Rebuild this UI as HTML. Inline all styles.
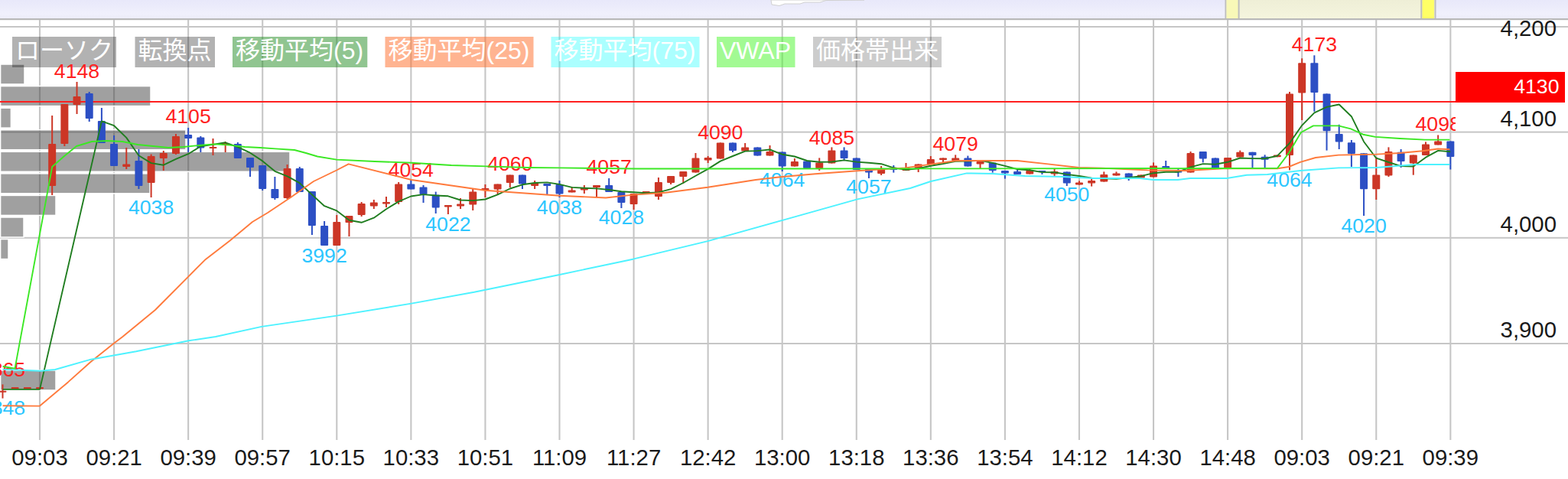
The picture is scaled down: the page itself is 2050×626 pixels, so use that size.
<!DOCTYPE html>
<html><head><meta charset="utf-8"><title>chart</title><style>html,body{margin:0;padding:0;background:#fff;overflow:hidden}body{width:2050px;height:626px}</style></head><body>
<svg width="2050" height="626" viewBox="0 0 2050 626" style="display:block;font-family:'Liberation Sans','Noto Sans CJK JP',sans-serif">
<defs>
<linearGradient id="band" x1="0" y1="0" x2="0" y2="1"><stop offset="0" stop-color="#e8e8fa"/><stop offset="0.75" stop-color="#f0f0fc"/><stop offset="1" stop-color="#ececf8"/></linearGradient>
<linearGradient id="sel" x1="0" y1="0" x2="0" y2="1"><stop offset="0" stop-color="#eeeed6"/><stop offset="1" stop-color="#f5f5de"/></linearGradient>
<clipPath id="plot"><rect x="0" y="26" width="1903" height="560"/></clipPath>
</defs>
<rect x="0" y="0" width="2050" height="626" fill="#fff"/>
<rect x="0" y="0" width="2050" height="24.5" fill="url(#band)"/>
<path d="M1008 0 L1009 6 L1019 7.5 L1026 5 L1046 5 L1052 3 L1072 3 L1080 0.5 L1130 0 Z" fill="#fff" stroke="#d0d0d0" stroke-width="1"/>
<rect x="1602.5" y="-2" width="274" height="27" fill="url(#sel)" stroke="#bdbdbd" stroke-width="2"/>
<rect x="1603.5" y="0" width="15.5" height="24.5" fill="#f8f8b8"/>
<rect x="1618.6" y="0" width="2" height="24.5" fill="#bdbdbd"/>
<rect x="1859.3" y="0" width="15.6" height="24.5" fill="#ffff66"/>
<rect x="1857.3" y="0" width="2" height="24.5" fill="#bdbdbd"/>
<rect x="0" y="24" width="2050" height="2.2" fill="#b9b9b9"/>
<rect x="50.95" y="26" width="2.1" height="549" fill="#c6c6c6"/>
<rect x="148.02" y="26" width="2.1" height="549" fill="#c6c6c6"/>
<rect x="245.09" y="26" width="2.1" height="549" fill="#c6c6c6"/>
<rect x="342.16" y="26" width="2.1" height="549" fill="#c6c6c6"/>
<rect x="439.23" y="26" width="2.1" height="549" fill="#c6c6c6"/>
<rect x="536.30" y="26" width="2.1" height="549" fill="#c6c6c6"/>
<rect x="633.37" y="26" width="2.1" height="549" fill="#c6c6c6"/>
<rect x="730.44" y="26" width="2.1" height="549" fill="#c6c6c6"/>
<rect x="827.51" y="26" width="2.1" height="549" fill="#c6c6c6"/>
<rect x="924.58" y="26" width="2.1" height="549" fill="#c6c6c6"/>
<rect x="1021.65" y="26" width="2.1" height="549" fill="#c6c6c6"/>
<rect x="1118.72" y="26" width="2.1" height="549" fill="#c6c6c6"/>
<rect x="1215.79" y="26" width="2.1" height="549" fill="#c6c6c6"/>
<rect x="1312.86" y="26" width="2.1" height="549" fill="#c6c6c6"/>
<rect x="1409.93" y="26" width="2.1" height="549" fill="#c6c6c6"/>
<rect x="1507.00" y="26" width="2.1" height="549" fill="#c6c6c6"/>
<rect x="1604.07" y="26" width="2.1" height="549" fill="#c6c6c6"/>
<rect x="1701.14" y="26" width="2.1" height="549" fill="#c6c6c6"/>
<rect x="1798.21" y="26" width="2.1" height="549" fill="#c6c6c6"/>
<rect x="1895.28" y="26" width="2.1" height="549" fill="#c6c6c6"/>
<rect x="0" y="34.00" width="2050" height="2" fill="#c6c6c6"/>
<rect x="0" y="171.60" width="2050" height="2" fill="#c6c6c6"/>
<rect x="0" y="309.80" width="2050" height="2" fill="#c6c6c6"/>
<rect x="0" y="448.00" width="2050" height="2" fill="#c6c6c6"/>
<g clip-path="url(#plot)">
<rect x="0.6" y="84.00" width="31.4" height="26" fill="rgba(60,60,60,0.485)" stroke="#fff" stroke-width="1.5"/>
<rect x="0.6" y="112.57" width="196.4" height="26" fill="rgba(60,60,60,0.485)" stroke="#fff" stroke-width="1.5"/>
<rect x="0.6" y="141.14" width="13.8" height="26" fill="rgba(60,60,60,0.485)" stroke="#fff" stroke-width="1.5"/>
<rect x="0.6" y="169.71" width="242.4" height="26" fill="rgba(60,60,60,0.485)" stroke="#fff" stroke-width="1.5"/>
<rect x="0.6" y="198.28" width="378.4" height="26" fill="rgba(60,60,60,0.485)" stroke="#fff" stroke-width="1.5"/>
<rect x="0.6" y="226.85" width="195.4" height="26" fill="rgba(60,60,60,0.485)" stroke="#fff" stroke-width="1.5"/>
<rect x="0.6" y="255.42" width="72.4" height="26" fill="rgba(60,60,60,0.485)" stroke="#fff" stroke-width="1.5"/>
<rect x="0.6" y="283.99" width="30.4" height="26" fill="rgba(60,60,60,0.485)" stroke="#fff" stroke-width="1.5"/>
<rect x="0.6" y="312.56" width="10.4" height="26" fill="rgba(60,60,60,0.485)" stroke="#fff" stroke-width="1.5"/>
<rect x="0.6" y="483.98" width="72.4" height="26" fill="rgba(60,60,60,0.485)" stroke="#fff" stroke-width="1.5"/>
</g>
<rect x="16" y="48" width="136" height="40" fill="rgba(0,0,0,0.3)"/><g fill="#fff"><text x="20" y="77.4" font-size="32" fill="#fff">ローソク</text></g>
<rect x="176.5" y="48" width="104.5" height="40" fill="rgba(0,0,0,0.3)"/><g fill="#fff"><text x="180.5" y="77.4" font-size="32" fill="#fff">転換点</text></g>
<rect x="304" y="48" width="176.3" height="40" fill="rgba(34,139,34,0.5)"/><g fill="#fff"><text x="308" y="77.4" font-size="32" fill="#fff">移動平均</text><text x="436.00" y="77.4" font-size="32" fill="#fff">(5)</text></g>
<rect x="503.5" y="48" width="194" height="40" fill="rgba(255,105,35,0.5)"/><g fill="#fff"><text x="507.5" y="77.4" font-size="32" fill="#fff">移動平均</text><text x="635.50" y="77.4" font-size="32" fill="#fff">(25)</text></g>
<rect x="720.5" y="48" width="194" height="40" fill="rgba(0,255,255,0.33)"/><g fill="#fff"><text x="724.5" y="77.4" font-size="32" fill="#fff">移動平均</text><text x="852.50" y="77.4" font-size="32" fill="#fff">(75)</text></g>
<rect x="937" y="48" width="102.5" height="40" fill="rgba(70,245,40,0.5)"/><g fill="#fff"><text x="941.00" y="77.4" font-size="32" fill="#fff">VWAP</text></g>
<rect x="1063" y="48" width="168" height="40" fill="rgba(0,0,0,0.2)"/><g fill="#fff"><text x="1067" y="77.4" font-size="32" fill="#fff">価格帯出来</text></g>
<g clip-path="url(#plot)">
<rect x="0" y="132" width="1905" height="2" fill="#ff2020"/>
<rect x="2.47" y="502.4" width="2" height="18.2" fill="#cc3626"/>
<rect x="-1.53" y="510.7" width="10" height="2.0" rx="1" fill="#cc3626"/>
<rect x="18.64" y="506.0" width="2" height="2.3" fill="#cc3626"/>
<rect x="14.64" y="506.0" width="10" height="2.3" rx="1" fill="#cc3626"/>
<rect x="34.82" y="506.0" width="2" height="2.3" fill="#cc3626"/>
<rect x="30.82" y="506.0" width="10" height="2.3" rx="1" fill="#cc3626"/>
<rect x="51.00" y="506.0" width="2" height="2.3" fill="#cc3626"/>
<rect x="47.00" y="506.0" width="10" height="2.3" rx="1" fill="#cc3626"/>
<rect x="67.18" y="151.0" width="2" height="104.0" fill="#cc3626"/>
<rect x="63.18" y="188.0" width="10" height="55.0" rx="1" fill="#cc3626"/>
<rect x="83.36" y="136.0" width="2" height="55.0" fill="#cc3626"/>
<rect x="79.36" y="136.0" width="10" height="52.0" rx="1" fill="#cc3626"/>
<rect x="99.53" y="107.0" width="2" height="42.0" fill="#cc3626"/>
<rect x="95.53" y="126.0" width="10" height="11.0" rx="1" fill="#cc3626"/>
<rect x="115.71" y="120.0" width="2" height="39.0" fill="#2c4fc4"/>
<rect x="111.71" y="122.0" width="10" height="33.0" rx="1" fill="#2c4fc4"/>
<rect x="131.89" y="141.0" width="2" height="46.0" fill="#2c4fc4"/>
<rect x="127.89" y="158.0" width="10" height="29.0" rx="1" fill="#2c4fc4"/>
<rect x="148.07" y="177.0" width="2" height="40.0" fill="#2c4fc4"/>
<rect x="144.07" y="188.0" width="10" height="29.0" rx="1" fill="#2c4fc4"/>
<rect x="164.25" y="193.0" width="2" height="28.0" fill="#cc3626"/>
<rect x="160.25" y="214.4" width="10" height="3.6" rx="1" fill="#cc3626"/>
<rect x="180.43" y="195.0" width="2" height="52.0" fill="#2c4fc4"/>
<rect x="176.43" y="210.0" width="10" height="33.0" rx="1" fill="#2c4fc4"/>
<rect x="196.60" y="201.6" width="2" height="56.4" fill="#cc3626"/>
<rect x="192.60" y="204.0" width="10" height="35.0" rx="1" fill="#cc3626"/>
<rect x="212.78" y="197.0" width="2" height="26.0" fill="#cc3626"/>
<rect x="208.78" y="200.0" width="10" height="7.0" rx="1" fill="#cc3626"/>
<rect x="228.96" y="175.0" width="2" height="27.0" fill="#cc3626"/>
<rect x="224.96" y="178.0" width="10" height="23.0" rx="1" fill="#cc3626"/>
<rect x="245.14" y="167.0" width="2" height="32.0" fill="#2c4fc4"/>
<rect x="241.14" y="176.0" width="10" height="5.0" rx="1" fill="#2c4fc4"/>
<rect x="261.32" y="178.0" width="2" height="21.0" fill="#2c4fc4"/>
<rect x="257.32" y="179.6" width="10" height="14.0" rx="1" fill="#2c4fc4"/>
<rect x="277.50" y="181.0" width="2" height="22.0" fill="#cc3626"/>
<rect x="273.50" y="192.0" width="10" height="2.0" rx="1" fill="#cc3626"/>
<rect x="293.67" y="185.0" width="2" height="14.0" fill="#cc3626"/>
<rect x="289.67" y="187.0" width="10" height="3.0" rx="1" fill="#cc3626"/>
<rect x="309.85" y="186.0" width="2" height="21.0" fill="#2c4fc4"/>
<rect x="305.85" y="188.0" width="10" height="19.0" rx="1" fill="#2c4fc4"/>
<rect x="326.03" y="206.0" width="2" height="25.0" fill="#2c4fc4"/>
<rect x="322.03" y="206.0" width="10" height="13.0" rx="1" fill="#2c4fc4"/>
<rect x="342.21" y="216.0" width="2" height="33.0" fill="#2c4fc4"/>
<rect x="338.21" y="216.0" width="10" height="31.0" rx="1" fill="#2c4fc4"/>
<rect x="358.39" y="231.0" width="2" height="30.0" fill="#2c4fc4"/>
<rect x="354.39" y="247.0" width="10" height="12.0" rx="1" fill="#2c4fc4"/>
<rect x="374.57" y="215.0" width="2" height="45.0" fill="#cc3626"/>
<rect x="370.57" y="220.0" width="10" height="39.0" rx="1" fill="#cc3626"/>
<rect x="390.74" y="218.0" width="2" height="33.0" fill="#2c4fc4"/>
<rect x="386.74" y="220.0" width="10" height="31.0" rx="1" fill="#2c4fc4"/>
<rect x="406.92" y="250.0" width="2" height="57.0" fill="#2c4fc4"/>
<rect x="402.92" y="250.0" width="10" height="45.0" rx="1" fill="#2c4fc4"/>
<rect x="423.10" y="289.0" width="2" height="32.0" fill="#2c4fc4"/>
<rect x="419.10" y="295.0" width="10" height="26.0" rx="1" fill="#2c4fc4"/>
<rect x="439.28" y="281.0" width="2" height="40.0" fill="#cc3626"/>
<rect x="435.28" y="290.0" width="10" height="31.0" rx="1" fill="#cc3626"/>
<rect x="455.46" y="282.0" width="2" height="27.0" fill="#cc3626"/>
<rect x="451.46" y="282.0" width="10" height="9.0" rx="1" fill="#cc3626"/>
<rect x="471.64" y="264.0" width="2" height="19.0" fill="#cc3626"/>
<rect x="467.64" y="266.0" width="10" height="15.0" rx="1" fill="#cc3626"/>
<rect x="487.81" y="261.0" width="2" height="12.0" fill="#cc3626"/>
<rect x="483.81" y="264.6" width="10" height="4.8" rx="1" fill="#cc3626"/>
<rect x="503.99" y="257.0" width="2" height="14.0" fill="#cc3626"/>
<rect x="499.99" y="264.0" width="10" height="2.6" rx="1" fill="#cc3626"/>
<rect x="520.17" y="238.0" width="2" height="29.0" fill="#cc3626"/>
<rect x="516.17" y="240.6" width="10" height="23.4" rx="1" fill="#cc3626"/>
<rect x="536.35" y="235.0" width="2" height="12.4" fill="#2c4fc4"/>
<rect x="532.35" y="240.6" width="10" height="6.8" rx="1" fill="#2c4fc4"/>
<rect x="552.53" y="242.0" width="2" height="23.0" fill="#2c4fc4"/>
<rect x="548.53" y="244.6" width="10" height="9.4" rx="1" fill="#2c4fc4"/>
<rect x="568.71" y="250.6" width="2" height="28.4" fill="#2c4fc4"/>
<rect x="564.71" y="254.6" width="10" height="16.8" rx="1" fill="#2c4fc4"/>
<rect x="584.88" y="268.0" width="2" height="12.0" fill="#cc3626"/>
<rect x="580.88" y="268.0" width="10" height="2.6" rx="1" fill="#cc3626"/>
<rect x="601.06" y="259.0" width="2" height="14.0" fill="#cc3626"/>
<rect x="597.06" y="266.6" width="10" height="2.8" rx="1" fill="#cc3626"/>
<rect x="617.24" y="247.0" width="2" height="28.0" fill="#cc3626"/>
<rect x="613.24" y="250.6" width="10" height="16.8" rx="1" fill="#cc3626"/>
<rect x="633.42" y="241.0" width="2" height="17.0" fill="#cc3626"/>
<rect x="629.42" y="246.0" width="10" height="2.6" rx="1" fill="#cc3626"/>
<rect x="649.60" y="240.6" width="2" height="13.4" fill="#cc3626"/>
<rect x="645.60" y="240.6" width="10" height="6.8" rx="1" fill="#cc3626"/>
<rect x="665.78" y="228.6" width="2" height="16.4" fill="#cc3626"/>
<rect x="661.78" y="228.6" width="10" height="10.4" rx="1" fill="#cc3626"/>
<rect x="681.95" y="228.6" width="2" height="18.4" fill="#2c4fc4"/>
<rect x="677.95" y="228.6" width="10" height="12.0" rx="1" fill="#2c4fc4"/>
<rect x="698.13" y="236.0" width="2" height="11.0" fill="#cc3626"/>
<rect x="694.13" y="239.0" width="10" height="4.0" rx="1" fill="#cc3626"/>
<rect x="714.31" y="240.0" width="2" height="15.0" fill="#2c4fc4"/>
<rect x="710.31" y="240.0" width="10" height="3.0" rx="1" fill="#2c4fc4"/>
<rect x="730.49" y="236.0" width="2" height="22.0" fill="#2c4fc4"/>
<rect x="726.49" y="241.0" width="10" height="12.4" rx="1" fill="#2c4fc4"/>
<rect x="746.67" y="244.0" width="2" height="7.4" fill="#cc3626"/>
<rect x="742.67" y="248.6" width="10" height="2.8" rx="1" fill="#cc3626"/>
<rect x="762.85" y="242.0" width="2" height="11.0" fill="#cc3626"/>
<rect x="758.85" y="245.0" width="10" height="3.6" rx="1" fill="#cc3626"/>
<rect x="779.02" y="242.0" width="2" height="15.0" fill="#cc3626"/>
<rect x="775.02" y="242.0" width="10" height="3.0" rx="1" fill="#cc3626"/>
<rect x="795.20" y="233.0" width="2" height="18.0" fill="#2c4fc4"/>
<rect x="791.20" y="242.0" width="10" height="9.0" rx="1" fill="#2c4fc4"/>
<rect x="811.38" y="251.0" width="2" height="21.0" fill="#2c4fc4"/>
<rect x="807.38" y="251.0" width="10" height="14.0" rx="1" fill="#2c4fc4"/>
<rect x="827.56" y="253.0" width="2" height="21.0" fill="#cc3626"/>
<rect x="823.56" y="253.0" width="10" height="14.0" rx="1" fill="#cc3626"/>
<rect x="843.74" y="250.0" width="2" height="3.0" fill="#cc3626"/>
<rect x="839.74" y="250.0" width="10" height="3.0" rx="1" fill="#cc3626"/>
<rect x="859.92" y="232.0" width="2" height="29.0" fill="#cc3626"/>
<rect x="855.92" y="238.0" width="10" height="19.0" rx="1" fill="#cc3626"/>
<rect x="876.09" y="230.0" width="2" height="11.0" fill="#cc3626"/>
<rect x="872.09" y="230.0" width="10" height="9.0" rx="1" fill="#cc3626"/>
<rect x="892.27" y="224.0" width="2" height="16.0" fill="#cc3626"/>
<rect x="888.27" y="224.0" width="10" height="7.0" rx="1" fill="#cc3626"/>
<rect x="908.45" y="200.0" width="2" height="25.6" fill="#cc3626"/>
<rect x="904.45" y="206.4" width="10" height="19.2" rx="1" fill="#cc3626"/>
<rect x="924.63" y="204.0" width="2" height="9.0" fill="#cc3626"/>
<rect x="920.63" y="206.0" width="10" height="3.6" rx="1" fill="#cc3626"/>
<rect x="940.81" y="186.4" width="2" height="21.2" fill="#cc3626"/>
<rect x="936.81" y="186.4" width="10" height="21.2" rx="1" fill="#cc3626"/>
<rect x="956.99" y="186.4" width="2" height="12.6" fill="#2c4fc4"/>
<rect x="952.99" y="186.4" width="10" height="10.6" rx="1" fill="#2c4fc4"/>
<rect x="973.16" y="187.0" width="2" height="10.6" fill="#cc3626"/>
<rect x="969.16" y="192.4" width="10" height="5.2" rx="1" fill="#cc3626"/>
<rect x="989.34" y="192.4" width="2" height="11.2" fill="#2c4fc4"/>
<rect x="985.34" y="192.4" width="10" height="11.2" rx="1" fill="#2c4fc4"/>
<rect x="1005.52" y="190.0" width="2" height="13.6" fill="#cc3626"/>
<rect x="1001.52" y="198.0" width="10" height="5.6" rx="1" fill="#cc3626"/>
<rect x="1021.70" y="198.4" width="2" height="25.6" fill="#2c4fc4"/>
<rect x="1017.70" y="198.4" width="10" height="19.2" rx="1" fill="#2c4fc4"/>
<rect x="1037.88" y="207.0" width="2" height="10.6" fill="#cc3626"/>
<rect x="1033.88" y="211.0" width="10" height="6.6" rx="1" fill="#cc3626"/>
<rect x="1054.06" y="210.4" width="2" height="9.6" fill="#2c4fc4"/>
<rect x="1050.06" y="210.4" width="10" height="9.6" rx="1" fill="#2c4fc4"/>
<rect x="1070.23" y="206.4" width="2" height="16.6" fill="#cc3626"/>
<rect x="1066.23" y="212.4" width="10" height="7.6" rx="1" fill="#cc3626"/>
<rect x="1086.41" y="192.4" width="2" height="21.2" fill="#cc3626"/>
<rect x="1082.41" y="196.4" width="10" height="17.2" rx="1" fill="#cc3626"/>
<rect x="1102.59" y="192.4" width="2" height="17.6" fill="#2c4fc4"/>
<rect x="1098.59" y="196.4" width="10" height="10.6" rx="1" fill="#2c4fc4"/>
<rect x="1118.77" y="206.4" width="2" height="15.6" fill="#2c4fc4"/>
<rect x="1114.77" y="206.4" width="10" height="15.6" rx="1" fill="#2c4fc4"/>
<rect x="1134.95" y="220.0" width="2" height="13.0" fill="#2c4fc4"/>
<rect x="1130.95" y="220.0" width="10" height="5.6" rx="1" fill="#2c4fc4"/>
<rect x="1151.13" y="217.0" width="2" height="12.0" fill="#cc3626"/>
<rect x="1147.13" y="220.0" width="10" height="7.0" rx="1" fill="#cc3626"/>
<rect x="1167.30" y="216.0" width="2" height="9.6" fill="#2c4fc4"/>
<rect x="1163.30" y="220.0" width="10" height="2.0" rx="1" fill="#2c4fc4"/>
<rect x="1183.48" y="213.0" width="2" height="10.0" fill="#cc3626"/>
<rect x="1179.48" y="219.0" width="10" height="4.0" rx="1" fill="#cc3626"/>
<rect x="1199.66" y="214.4" width="2" height="10.6" fill="#cc3626"/>
<rect x="1195.66" y="214.4" width="10" height="5.6" rx="1" fill="#cc3626"/>
<rect x="1215.84" y="204.0" width="2" height="11.0" fill="#cc3626"/>
<rect x="1211.84" y="208.0" width="10" height="7.0" rx="1" fill="#cc3626"/>
<rect x="1232.02" y="206.4" width="2" height="6.6" fill="#cc3626"/>
<rect x="1228.02" y="206.4" width="10" height="2.6" rx="1" fill="#cc3626"/>
<rect x="1248.20" y="202.4" width="2" height="7.6" fill="#cc3626"/>
<rect x="1244.20" y="206.4" width="10" height="3.6" rx="1" fill="#cc3626"/>
<rect x="1264.37" y="203.6" width="2" height="14.0" fill="#2c4fc4"/>
<rect x="1260.37" y="206.4" width="10" height="11.2" rx="1" fill="#2c4fc4"/>
<rect x="1280.55" y="211.0" width="2" height="10.0" fill="#cc3626"/>
<rect x="1276.55" y="211.0" width="10" height="3.4" rx="1" fill="#cc3626"/>
<rect x="1296.73" y="212.4" width="2" height="13.2" fill="#2c4fc4"/>
<rect x="1292.73" y="212.4" width="10" height="10.6" rx="1" fill="#2c4fc4"/>
<rect x="1312.91" y="223.0" width="2" height="10.6" fill="#2c4fc4"/>
<rect x="1308.91" y="223.0" width="10" height="3.4" rx="1" fill="#2c4fc4"/>
<rect x="1329.09" y="220.0" width="2" height="8.0" fill="#2c4fc4"/>
<rect x="1325.09" y="224.0" width="10" height="4.0" rx="1" fill="#2c4fc4"/>
<rect x="1345.27" y="221.0" width="2" height="6.6" fill="#cc3626"/>
<rect x="1341.27" y="223.0" width="10" height="4.6" rx="1" fill="#cc3626"/>
<rect x="1361.44" y="223.0" width="2" height="5.0" fill="#2c4fc4"/>
<rect x="1357.44" y="223.0" width="10" height="2.0" rx="1" fill="#2c4fc4"/>
<rect x="1377.62" y="220.0" width="2" height="10.4" fill="#cc3626"/>
<rect x="1373.62" y="224.0" width="10" height="3.6" rx="1" fill="#cc3626"/>
<rect x="1393.80" y="224.4" width="2" height="18.6" fill="#2c4fc4"/>
<rect x="1389.80" y="224.4" width="10" height="15.2" rx="1" fill="#2c4fc4"/>
<rect x="1409.98" y="236.4" width="2" height="5.2" fill="#cc3626"/>
<rect x="1405.98" y="238.4" width="10" height="3.2" rx="1" fill="#cc3626"/>
<rect x="1426.16" y="233.0" width="2" height="10.6" fill="#cc3626"/>
<rect x="1422.16" y="236.0" width="10" height="3.6" rx="1" fill="#cc3626"/>
<rect x="1442.34" y="224.4" width="2" height="13.2" fill="#cc3626"/>
<rect x="1438.34" y="228.0" width="10" height="9.6" rx="1" fill="#cc3626"/>
<rect x="1458.51" y="224.4" width="2" height="5.2" fill="#cc3626"/>
<rect x="1454.51" y="226.4" width="10" height="3.2" rx="1" fill="#cc3626"/>
<rect x="1474.69" y="226.4" width="2" height="9.6" fill="#2c4fc4"/>
<rect x="1470.69" y="226.4" width="10" height="5.6" rx="1" fill="#2c4fc4"/>
<rect x="1490.87" y="228.4" width="2" height="4.0" fill="#cc3626"/>
<rect x="1486.87" y="228.4" width="10" height="4.0" rx="1" fill="#cc3626"/>
<rect x="1507.05" y="212.4" width="2" height="19.2" fill="#cc3626"/>
<rect x="1503.05" y="216.4" width="10" height="15.2" rx="1" fill="#cc3626"/>
<rect x="1523.23" y="210.0" width="2" height="11.0" fill="#2c4fc4"/>
<rect x="1519.23" y="217.0" width="10" height="4.0" rx="1" fill="#2c4fc4"/>
<rect x="1539.41" y="220.0" width="2" height="11.0" fill="#2c4fc4"/>
<rect x="1535.41" y="223.6" width="10" height="2.0" rx="1" fill="#2c4fc4"/>
<rect x="1555.58" y="198.0" width="2" height="27.6" fill="#cc3626"/>
<rect x="1551.58" y="200.0" width="10" height="25.6" rx="1" fill="#cc3626"/>
<rect x="1571.76" y="198.0" width="2" height="14.4" fill="#2c4fc4"/>
<rect x="1567.76" y="198.0" width="10" height="9.6" rx="1" fill="#2c4fc4"/>
<rect x="1587.94" y="206.4" width="2" height="13.6" fill="#2c4fc4"/>
<rect x="1583.94" y="206.4" width="10" height="13.6" rx="1" fill="#2c4fc4"/>
<rect x="1604.12" y="206.0" width="2" height="14.0" fill="#cc3626"/>
<rect x="1600.12" y="206.0" width="10" height="14.0" rx="1" fill="#cc3626"/>
<rect x="1620.30" y="196.6" width="2" height="8.8" fill="#cc3626"/>
<rect x="1616.30" y="198.7" width="10" height="6.7" rx="1" fill="#cc3626"/>
<rect x="1636.48" y="198.7" width="2" height="20.3" fill="#2c4fc4"/>
<rect x="1632.48" y="198.7" width="10" height="4.3" rx="1" fill="#2c4fc4"/>
<rect x="1652.65" y="202.3" width="2" height="16.7" fill="#2c4fc4"/>
<rect x="1648.65" y="204.7" width="10" height="4.1" rx="1" fill="#2c4fc4"/>
<rect x="1668.83" y="202.6" width="2" height="2.7" fill="#cc3626"/>
<rect x="1664.83" y="202.6" width="10" height="2.7" rx="1" fill="#cc3626"/>
<rect x="1685.01" y="120.0" width="2" height="102.3" fill="#cc3626"/>
<rect x="1681.01" y="122.4" width="10" height="80.6" rx="1" fill="#cc3626"/>
<rect x="1701.19" y="76.3" width="2" height="80.7" fill="#cc3626"/>
<rect x="1697.19" y="82.3" width="10" height="39.2" rx="1" fill="#cc3626"/>
<rect x="1717.37" y="72.3" width="2" height="73.5" fill="#2c4fc4"/>
<rect x="1713.37" y="82.3" width="10" height="38.7" rx="1" fill="#2c4fc4"/>
<rect x="1733.55" y="122.4" width="2" height="74.2" fill="#2c4fc4"/>
<rect x="1729.55" y="122.4" width="10" height="48.9" rx="1" fill="#2c4fc4"/>
<rect x="1749.72" y="162.8" width="2" height="32.2" fill="#2c4fc4"/>
<rect x="1745.72" y="174.9" width="10" height="10.5" rx="1" fill="#2c4fc4"/>
<rect x="1765.90" y="183.0" width="2" height="35.0" fill="#2c4fc4"/>
<rect x="1761.90" y="186.2" width="10" height="14.8" rx="1" fill="#2c4fc4"/>
<rect x="1782.08" y="200.2" width="2" height="81.8" fill="#2c4fc4"/>
<rect x="1778.08" y="200.2" width="10" height="47.1" rx="1" fill="#2c4fc4"/>
<rect x="1798.26" y="205.3" width="2" height="55.7" fill="#cc3626"/>
<rect x="1794.26" y="228.4" width="10" height="18.9" rx="1" fill="#cc3626"/>
<rect x="1814.44" y="192.4" width="2" height="38.6" fill="#cc3626"/>
<rect x="1810.44" y="198.0" width="10" height="31.5" rx="1" fill="#cc3626"/>
<rect x="1830.62" y="195.0" width="2" height="24.0" fill="#2c4fc4"/>
<rect x="1826.62" y="198.7" width="10" height="12.3" rx="1" fill="#2c4fc4"/>
<rect x="1846.79" y="202.6" width="2" height="26.1" fill="#cc3626"/>
<rect x="1842.79" y="202.6" width="10" height="10.9" rx="1" fill="#cc3626"/>
<rect x="1862.97" y="185.4" width="2" height="17.6" fill="#cc3626"/>
<rect x="1858.97" y="188.6" width="10" height="14.4" rx="1" fill="#cc3626"/>
<rect x="1879.15" y="176.5" width="2" height="12.9" fill="#cc3626"/>
<rect x="1875.15" y="184.5" width="10" height="4.9" rx="1" fill="#cc3626"/>
<rect x="1895.33" y="184.5" width="2" height="37.0" fill="#2c4fc4"/>
<rect x="1891.33" y="184.5" width="10" height="20.5" rx="1" fill="#2c4fc4"/>
<text x="100.5" y="101.6" font-size="26.67" text-anchor="middle" fill="#ff2020">4148</text>
<text x="246.1" y="160.9" font-size="26.67" text-anchor="middle" fill="#ff2020">4105</text>
<text x="537.3" y="231.3" font-size="26.67" text-anchor="middle" fill="#ff2020">4054</text>
<text x="666.8" y="223.0" font-size="26.67" text-anchor="middle" fill="#ff2020">4060</text>
<text x="796.2" y="227.1" font-size="26.67" text-anchor="middle" fill="#ff2020">4057</text>
<text x="941.8" y="181.6" font-size="26.67" text-anchor="middle" fill="#ff2020">4090</text>
<text x="1087.4" y="188.5" font-size="26.67" text-anchor="middle" fill="#ff2020">4085</text>
<text x="1249.2" y="196.8" font-size="26.67" text-anchor="middle" fill="#ff2020">4079</text>
<text x="1718.4" y="67.1" font-size="26.67" text-anchor="middle" fill="#ff2020">4173</text>
<text x="1880.2" y="170.6" font-size="26.67" text-anchor="middle" fill="#ff2020">4098</text>
<text x="3.5" y="492.1" font-size="26.67" text-anchor="middle" fill="#ff2020">3865</text>
<text x="197.6" y="279.6" font-size="26.67" text-anchor="middle" fill="#2cc6ff">4038</text>
<text x="424.1" y="343.0" font-size="26.67" text-anchor="middle" fill="#2cc6ff">3992</text>
<text x="585.9" y="301.6" font-size="26.67" text-anchor="middle" fill="#2cc6ff">4022</text>
<text x="731.5" y="279.6" font-size="26.67" text-anchor="middle" fill="#2cc6ff">4038</text>
<text x="812.4" y="293.4" font-size="26.67" text-anchor="middle" fill="#2cc6ff">4028</text>
<text x="1022.7" y="243.7" font-size="26.67" text-anchor="middle" fill="#2cc6ff">4064</text>
<text x="1135.9" y="253.3" font-size="26.67" text-anchor="middle" fill="#2cc6ff">4057</text>
<text x="1394.8" y="263.0" font-size="26.67" text-anchor="middle" fill="#2cc6ff">4050</text>
<text x="1686.0" y="243.7" font-size="26.67" text-anchor="middle" fill="#2cc6ff">4064</text>
<text x="1783.1" y="304.4" font-size="26.67" text-anchor="middle" fill="#2cc6ff">4020</text>
<text x="3.5" y="541.8" font-size="26.67" text-anchor="middle" fill="#2cc6ff">3848</text>
<polyline points="3.6,508.9 52.0,508.9 132.9,158.4 149.1,164.2 165.2,179.9 181.4,203.3 197.6,213.1 213.8,215.7 230.0,207.9 246.1,201.2 262.3,191.3 278.5,188.9 294.7,186.3 310.9,192.1 327.0,199.7 343.2,210.4 359.4,223.8 375.6,230.4 391.7,239.2 407.9,254.4 424.1,269.2 440.3,275.4 456.5,287.8 472.6,290.8 488.8,284.7 505.0,273.3 521.2,263.4 537.3,256.5 553.5,254.1 569.7,255.5 585.9,256.3 602.1,261.5 618.2,262.1 634.4,260.5 650.6,254.4 666.8,246.5 683.0,241.3 699.1,239.0 715.3,238.4 731.5,240.9 747.7,244.9 763.8,245.8 780.0,246.4 796.2,248.0 812.4,250.3 828.6,251.2 844.7,252.2 860.9,251.4 877.1,247.2 893.3,239.0 909.5,229.7 925.6,220.9 941.8,210.6 958.0,204.0 974.2,197.6 990.3,197.1 1006.5,195.5 1022.7,201.7 1038.9,204.5 1055.1,210.0 1071.2,211.8 1087.4,211.5 1103.6,209.4 1119.8,211.6 1135.9,212.7 1152.1,214.2 1168.3,219.3 1184.5,221.7 1200.7,220.2 1216.8,216.7 1233.0,214.0 1249.2,210.8 1265.4,210.6 1281.6,209.9 1297.7,212.9 1313.9,216.9 1330.1,221.2 1346.3,222.3 1362.4,225.1 1378.6,225.3 1394.8,227.9 1411.0,230.0 1427.2,232.6 1443.3,233.2 1459.5,233.7 1475.7,232.2 1491.9,230.2 1508.0,226.2 1524.2,224.8 1540.4,224.7 1556.6,218.3 1572.8,214.1 1588.9,214.8 1605.1,211.8 1621.3,206.5 1637.5,207.1 1653.7,207.3 1669.8,203.8 1686.0,187.1 1702.2,163.8 1718.4,147.4 1734.5,139.9 1750.7,136.5 1766.9,152.2 1783.1,185.2 1799.3,206.7 1815.4,212.0 1831.6,217.1 1847.8,217.5 1864.0,205.7 1880.2,196.9 1896.3,198.3" fill="none" stroke="#1f7d1f" stroke-width="1.9" stroke-linejoin="round" stroke-opacity="1"/>
<polyline points="3.6,530.3 52.0,530.6 89.0,499.4 118.8,472.7 148.5,449.0 160.4,440.0 203.0,405.0 244.4,363.3 268.8,338.9 300.6,314.4 330.0,290.0 350.0,278.0 380.0,258.0 410.0,237.0 440.0,222.5 455.7,214.3 538.0,235.0 633.7,248.7 731.6,255.8 792.0,258.5 827.5,254.6 870.5,251.8 925.3,244.8 988.0,235.0 1023.0,231.0 1066.0,227.2 1121.0,223.3 1183.6,219.4 1250.0,210.0 1330.0,210.0 1370.0,214.4 1410.0,219.0 1440.0,219.6 1470.0,221.0 1500.0,222.4 1550.0,223.0 1600.0,220.3 1670.0,220.3 1685.0,218.0 1700.0,211.8 1720.0,206.0 1750.0,202.6 1800.0,201.6 1830.0,200.0 1860.0,197.3 1880.0,194.5 1895.4,195.2" fill="none" stroke="#ff7a3c" stroke-width="1.9" stroke-linejoin="round" stroke-opacity="1"/>
<polyline points="3.6,482.7 53.0,484.7 72.0,483.0 119.0,469.7 178.0,459.3 246.6,445.3 282.0,440.0 342.0,426.9 440.0,412.6 538.0,396.6 620.0,381.8 731.6,359.0 827.5,338.7 925.3,315.2 1023.0,287.8 1121.0,260.4 1190.0,246.0 1217.0,237.0 1264.0,226.4 1298.0,227.0 1340.0,230.0 1390.0,231.0 1430.0,233.0 1490.0,233.0 1508.0,235.0 1540.0,235.0 1556.0,233.0 1604.0,233.0 1630.0,228.7 1657.0,228.0 1700.0,223.0 1750.0,219.4 1800.0,219.0 1850.0,215.0 1895.4,215.0" fill="none" stroke="#4df2ff" stroke-width="1.9" stroke-linejoin="round" stroke-opacity="1"/>
<polyline points="3.6,478.7 19.5,481.6 68.2,218.0 84.0,204.0 100.0,191.0 120.0,185.0 140.0,184.0 160.0,185.0 180.0,189.0 200.0,191.0 220.0,193.0 240.0,192.0 260.0,190.0 280.0,188.4 300.0,189.6 320.0,192.0 340.0,193.0 360.0,194.4 385.0,196.0 400.0,200.0 415.0,204.5 440.0,208.6 490.0,211.0 538.0,212.7 590.0,216.0 636.0,217.4 690.0,219.0 733.0,219.4 831.0,220.5 1200.0,220.4 1600.0,220.0 1670.0,219.9 1685.0,200.0 1701.0,173.0 1717.0,164.4 1750.0,164.4 1766.0,168.4 1782.0,175.7 1798.0,178.9 1830.0,181.0 1863.0,182.6 1895.4,182.6" fill="none" stroke="#3be824" stroke-width="1.9" stroke-linejoin="round" stroke-opacity="1"/>
</g>
<rect x="1903" y="94" width="143" height="40" fill="#ff0000"/>
<text x="2038.5" y="122.3" font-size="26.67" text-anchor="end" fill="#fff">4130</text>
<text x="2035" y="47.3" font-size="29.33" text-anchor="end" fill="#1a1a1a">4,200</text>
<text x="2035" y="165.3" font-size="29.33" text-anchor="end" fill="#1a1a1a">4,100</text>
<text x="2035" y="303" font-size="29.33" text-anchor="end" fill="#1a1a1a">4,000</text>
<text x="2035" y="441" font-size="29.33" text-anchor="end" fill="#1a1a1a">3,900</text>
<text x="52.0" y="608" font-size="29.33" text-anchor="middle" fill="#1a1a1a">09:03</text>
<text x="149.1" y="608" font-size="29.33" text-anchor="middle" fill="#1a1a1a">09:21</text>
<text x="246.1" y="608" font-size="29.33" text-anchor="middle" fill="#1a1a1a">09:39</text>
<text x="343.2" y="608" font-size="29.33" text-anchor="middle" fill="#1a1a1a">09:57</text>
<text x="440.3" y="608" font-size="29.33" text-anchor="middle" fill="#1a1a1a">10:15</text>
<text x="537.3" y="608" font-size="29.33" text-anchor="middle" fill="#1a1a1a">10:33</text>
<text x="634.4" y="608" font-size="29.33" text-anchor="middle" fill="#1a1a1a">10:51</text>
<text x="731.5" y="608" font-size="29.33" text-anchor="middle" fill="#1a1a1a">11:09</text>
<text x="828.6" y="608" font-size="29.33" text-anchor="middle" fill="#1a1a1a">11:27</text>
<text x="925.6" y="608" font-size="29.33" text-anchor="middle" fill="#1a1a1a">12:42</text>
<text x="1022.7" y="608" font-size="29.33" text-anchor="middle" fill="#1a1a1a">13:00</text>
<text x="1119.8" y="608" font-size="29.33" text-anchor="middle" fill="#1a1a1a">13:18</text>
<text x="1216.8" y="608" font-size="29.33" text-anchor="middle" fill="#1a1a1a">13:36</text>
<text x="1313.9" y="608" font-size="29.33" text-anchor="middle" fill="#1a1a1a">13:54</text>
<text x="1411.0" y="608" font-size="29.33" text-anchor="middle" fill="#1a1a1a">14:12</text>
<text x="1508.0" y="608" font-size="29.33" text-anchor="middle" fill="#1a1a1a">14:30</text>
<text x="1605.1" y="608" font-size="29.33" text-anchor="middle" fill="#1a1a1a">14:48</text>
<text x="1702.2" y="608" font-size="29.33" text-anchor="middle" fill="#1a1a1a">09:03</text>
<text x="1799.3" y="608" font-size="29.33" text-anchor="middle" fill="#1a1a1a">09:21</text>
<text x="1896.3" y="608" font-size="29.33" text-anchor="middle" fill="#1a1a1a">09:39</text>
</svg>
</body></html>
